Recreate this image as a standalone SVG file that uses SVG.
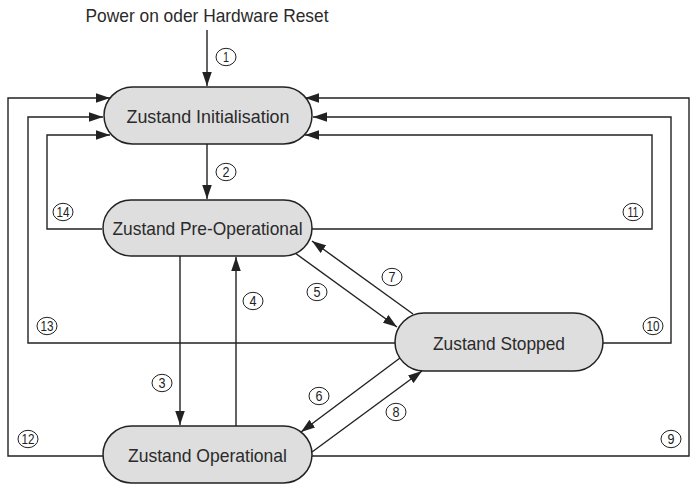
<svg xmlns="http://www.w3.org/2000/svg" width="690" height="484" viewBox="0 0 690 484">
<style>
.node{fill:#dedede;stroke:#222;stroke-width:1.5}
.nt{font-family:"Liberation Sans",Arial,sans-serif;font-size:18.5px;fill:#2a2a2a;text-anchor:middle}
.c{fill:none;stroke:#222;stroke-width:1.4}
.lc{fill:#fff;stroke:#222;stroke-width:1}
.lt{font-family:"Liberation Sans",Arial,sans-serif;font-size:15px;fill:#222;text-anchor:middle}
</style>
<defs>
<marker id="ah" markerUnits="userSpaceOnUse" markerWidth="15" markerHeight="10" refX="14" refY="4.75" orient="auto">
<path d="M0,0 L14,4.75 L0,9.5 Z" fill="#222"/>
</marker>
</defs>
<rect width="690" height="484" fill="#fff"/>
<text class="nt" x="207" y="22" textLength="243" lengthAdjust="spacingAndGlyphs">Power on oder Hardware Reset</text>
<g id="connectors">
<path class="c" d="M207,30 L207,86" marker-end="url(#ah)"/>
<path class="c" d="M207,144 L207,199" marker-end="url(#ah)"/>
<path class="c" d="M180,256 L180,425" marker-end="url(#ah)"/>
<path class="c" d="M236,426 L236,257" marker-end="url(#ah)"/>
<path class="c" d="M295,253 L397,327" marker-end="url(#ah)"/>
<path class="c" d="M413,314 L312,241" marker-end="url(#ah)"/>
<path class="c" d="M400,358 L301,432" marker-end="url(#ah)"/>
<path class="c" d="M312,452 L422,371" marker-end="url(#ah)"/>
<path class="c" d="M312,456 L689,456 L689,98 L305,98" marker-end="url(#ah)"/>
<path class="c" d="M603,343 L671,343 L671,117 L313,117" marker-end="url(#ah)"/>
<path class="c" d="M312,229 L652,229 L652,135 L305,135" marker-end="url(#ah)"/>
<path class="c" d="M103,456 L8,456 L8,98 L110,98" marker-end="url(#ah)"/>
<path class="c" d="M395,343 L28,343 L28,117 L103,117" marker-end="url(#ah)"/>
<path class="c" d="M102,229 L47,229 L47,135 L110,135" marker-end="url(#ah)"/>
</g>
<g id="labels">
<ellipse class="lc" cx="226" cy="57" rx="10" ry="8.7"/><text class="lt" x="226" y="62" textLength="6" lengthAdjust="spacingAndGlyphs">1</text>
<ellipse class="lc" cx="226" cy="172" rx="10" ry="8.7"/><text class="lt" x="226" y="177" textLength="7" lengthAdjust="spacingAndGlyphs">2</text>
<ellipse class="lc" cx="162" cy="383" rx="10" ry="8.7"/><text class="lt" x="162" y="388" textLength="7" lengthAdjust="spacingAndGlyphs">3</text>
<ellipse class="lc" cx="253" cy="301" rx="10" ry="8.7"/><text class="lt" x="253" y="306" textLength="7" lengthAdjust="spacingAndGlyphs">4</text>
<ellipse class="lc" cx="317" cy="292" rx="10" ry="8.7"/><text class="lt" x="317" y="297" textLength="7" lengthAdjust="spacingAndGlyphs">5</text>
<ellipse class="lc" cx="319" cy="396" rx="10" ry="8.7"/><text class="lt" x="319" y="401" textLength="7" lengthAdjust="spacingAndGlyphs">6</text>
<ellipse class="lc" cx="392" cy="277" rx="10" ry="8.7"/><text class="lt" x="392" y="282" textLength="7" lengthAdjust="spacingAndGlyphs">7</text>
<ellipse class="lc" cx="396" cy="412" rx="10" ry="8.7"/><text class="lt" x="396" y="417" textLength="7" lengthAdjust="spacingAndGlyphs">8</text>
<ellipse class="lc" cx="671" cy="439" rx="10" ry="8.7"/><text class="lt" x="671" y="444" textLength="7" lengthAdjust="spacingAndGlyphs">9</text>
<ellipse class="lc" cx="653" cy="326" rx="10" ry="8.7"/><text class="lt" x="653" y="331" textLength="13" lengthAdjust="spacingAndGlyphs">10</text>
<ellipse class="lc" cx="633" cy="212" rx="10" ry="8.7"/><text class="lt" x="633" y="217" textLength="11" lengthAdjust="spacingAndGlyphs">11</text>
<ellipse class="lc" cx="28" cy="439" rx="10" ry="8.7"/><text class="lt" x="28" y="444" textLength="13" lengthAdjust="spacingAndGlyphs">12</text>
<ellipse class="lc" cx="47" cy="326" rx="10" ry="8.7"/><text class="lt" x="47" y="331" textLength="13" lengthAdjust="spacingAndGlyphs">13</text>
<ellipse class="lc" cx="63" cy="212" rx="10" ry="8.7"/><text class="lt" x="63" y="217" textLength="13" lengthAdjust="spacingAndGlyphs">14</text>
</g>
<g id="init">
<rect class="node" x="104" y="87" width="208" height="57" rx="28.5"/>
<text class="nt" x="208" y="123" textLength="163" lengthAdjust="spacingAndGlyphs">Zustand Initialisation</text>
</g>
<g id="preop">
<rect class="node" x="103" y="200" width="209" height="56" rx="28"/>
<text class="nt" x="207.5" y="235" textLength="190" lengthAdjust="spacingAndGlyphs">Zustand Pre-Operational</text>
</g>
<g id="stopped">
<rect class="node" x="395" y="313" width="208" height="58" rx="29"/>
<text class="nt" x="499" y="350" textLength="132" lengthAdjust="spacingAndGlyphs">Zustand Stopped</text>
</g>
<g id="operational">
<rect class="node" x="103" y="426" width="209" height="57" rx="28.5"/>
<text class="nt" x="207.5" y="462" textLength="159" lengthAdjust="spacingAndGlyphs">Zustand Operational</text>
</g>
</svg>
